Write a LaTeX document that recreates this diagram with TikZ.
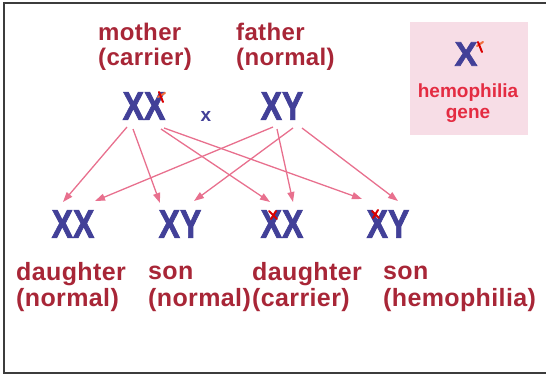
\documentclass[tikz,border=0pt]{standalone}
\usepackage{fontspec}
\setmainfont{Liberation Sans}
\newfontfamily\lblfont[LetterSpace=1.5]{Liberation Sans}
\newfontfamily\chromfont[BoldFeatures={FakeBold=2}]{Liberation Sans}
\usetikzlibrary{arrows.meta}
\definecolor{labelred}{RGB}{168,38,55}
\definecolor{chromblue}{RGB}{66,64,152}
\definecolor{arrowpink}{RGB}{232,112,142}
\definecolor{legendpink}{RGB}{247,221,230}
\definecolor{legendred}{RGB}{228,44,66}
\definecolor{markorange}{RGB}{240,110,60}
\definecolor{framegray}{RGB}{60,60,60}
\newcommand\chromo[1]{\scalebox{0.8}[1]{#1}}
\tikzset{
  chrom/.style={inner sep=0pt, text=chromblue, font=\chromfont\bfseries\fontsize{40}{40}\selectfont},
  lbl/.style={inner sep=0pt, anchor=north west, align=left, text=labelred, font=\lblfont\bfseries\fontsize{25}{25}\selectfont},
  plbl/.style={lbl, font=\lblfont\bfseries\fontsize{24}{25}\selectfont},
  arr/.style={draw=arrowpink, line width=1.3pt, -{Triangle[length=10pt,width=7pt]}},
  redmark/.style={draw=red!85!black, line width=2pt, line cap=round},
  orangemark/.style={draw=markorange, line width=2pt, line cap=round}
}
\begin{document}
\begin{tikzpicture}[x=1pt,y=-1pt]
\useasboundingbox (0,0) rectangle (546,377);
% frame
\draw[framegray, line width=2pt] (546,3) -- (4,3) -- (4,373) -- (546,373);
% legend
\fill[legendpink] (410,22) rectangle (528,135);
\node[inner sep=0pt, text=chromblue, font=\chromfont\bfseries\fontsize{34}{34}\selectfont] (legX) at (466,54) {X};
\draw[orangemark] (477,46) -- (483,42);
\draw[redmark] (478,42) -- (482,52);
\node[inner sep=0pt, align=center, text=legendred, font=\bfseries\fontsize{19}{21}\selectfont, anchor=north] (legT) at (468,84) {hemophilia\\gene};
% parents
\node[plbl] (momL) at (98,23) {\strut mother\\\strut(carrier)};
\node[plbl] (dadL) at (236,23) {\strut father\\\strut(normal)};
\node[chrom] (mom) at (144,106) {\chromo{XX}};
\node[chrom] (dad) at (282,106) {\chromo{XY}};
\node[inner sep=0pt, text=chromblue, font=\bfseries\fontsize{19}{19}\selectfont] (cross) at (206,116) {x};
\draw[orangemark] (158,97) -- (165,93);
\draw[redmark] (159,92) -- (163,102);
% children
\node[chrom] (d1) at (73,224) {\chromo{XX}};
\node[chrom] (s1) at (180,224) {\chromo{XY}};
\node[chrom] (d2) at (282,224) {\chromo{XX}};
\node[chrom] (s2) at (388,224) {\chromo{XY}};
\draw[redmark] (269,211) -- (277,219);
\draw[redmark] (271,219) -- (276,211);
\draw[redmark] (372,211) -- (379,218);
\draw[redmark] (373,218) -- (378,210);
% labels
\node[lbl] (d1L) at (16,262) {\strut daughter\\\strut(normal)};
\node[lbl] (s1L) at (148,262) {\strut son\\\strut(normal)};
\node[lbl] (d2L) at (252,262) {\strut daughter\\\strut(carrier)};
\node[lbl] (s2L) at (383,262) {\strut son\\\strut(hemophilia)};
% arrow anchor points
\coordinate (m1) at (127,127);
\coordinate (m2) at (133,129);
\coordinate (m3) at (161,129);
\coordinate (m4) at (164,128);
\coordinate (f1) at (273,127);
\coordinate (f2) at (277,129);
\coordinate (f3) at (293,128);
\coordinate (f4) at (302,128);
\coordinate (d1a) at (63,202);
\coordinate (d1b) at (95,201);
\coordinate (s1a) at (160,203);
\coordinate (s1b) at (194,201);
\coordinate (d2a) at (270,202);
\coordinate (d2b) at (293,202);
\coordinate (s2a) at (362,199);
\coordinate (s2b) at (398,201);
\draw[arr] (m1) -- (d1a);
\draw[arr] (m2) -- (s1a);
\draw[arr] (m3) -- (d2a);
\draw[arr] (m4) -- (s2a);
\draw[arr] (f1) -- (d1b);
\draw[arr] (f3) -- (s1b);
\draw[arr] (f2) -- (d2b);
\draw[arr] (f4) -- (s2b);
\end{tikzpicture}
\end{document}
